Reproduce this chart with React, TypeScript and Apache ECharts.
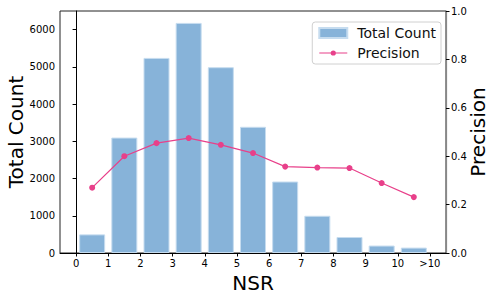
import React, { useEffect, useRef } from "react";
import * as echarts from "echarts";

const binCenters = [0.5, 1.5, 2.5, 3.5, 4.5, 5.5, 6.5, 7.5, 8.5, 9.5, 10.5];
const totalCounts = [500, 3100, 5240, 6180, 4990, 3390, 1920, 1000, 430, 200, 145];
const precision = [0.27, 0.40, 0.454, 0.475, 0.447, 0.413, 0.357, 0.353, 0.351, 0.289, 0.231];
const xTickValues = [0, 1, 2, 3, 4, 5, 6, 7, 8, 9, 10, 11];
const xTickLabels = ["0", "1", "2", "3", "4", "5", "6", "7", "8", "9", "10", ">10"];

const FONT = "DejaVu Sans";
const LINE_ICON = "path://M0 4.4H28V5.6H0Z M16.6 5A2.6 2.6 0 1 1 11.4 5A2.6 2.6 0 1 1 16.6 5Z";

export default function App() {
  const ref = useRef<HTMLDivElement>(null);
  useEffect(() => {
    if (!ref.current) return;
    const chart = echarts.init(ref.current, undefined, { renderer: "svg" });
    chart.setOption({
      animation: false,
      textStyle: { fontFamily: FONT },
      grid: {
        left: 60,
        top: 11,
        right: 52,
        bottom: 46,
        show: true,
        borderColor: "#222",
        borderWidth: 1,
        containLabel: false,
        outerBoundsMode: "none",
      },
      legend: {
        orient: "vertical",
        right: 57,
        top: 22,
        padding: [4, 5, 4, 6],
        itemGap: 6,
        itemWidth: 28,
        itemHeight: 10,
        borderColor: "#d0d0d0",
        borderWidth: 1,
        borderRadius: 3,
        backgroundColor: "#fff",
        textStyle: { fontFamily: FONT, fontSize: 14, color: "#111", padding: [0, 0, 0, 5] },
        data: [
          { name: "Total Count", icon: "rect" },
          { name: "Precision", icon: LINE_ICON },
        ],
      },
      xAxis: {
        type: "value",
        min: -0.5,
        max: 11.5,
        name: "NSR",
        nameLocation: "middle",
        nameGap: 18,
        nameTextStyle: { fontFamily: FONT, fontSize: 20, color: "#000" },
        axisLine: { show: true, lineStyle: { color: "#000", width: 1 } },
        axisTick: { show: true, length: 3.5, customValues: xTickValues, lineStyle: { color: "#000" } },
        axisLabel: {
          customValues: xTickValues,
          formatter: (v: number) => xTickLabels[xTickValues.indexOf(Math.round(v))] ?? "",
          fontFamily: FONT,
          fontSize: 10,
          color: "#000",
          margin: 5,
        },
        splitLine: { show: false },
      },
      yAxis: [
        {
          type: "value",
          min: 0,
          max: 6500,
          interval: 1000,
          name: "Total Count",
          nameLocation: "middle",
          nameMoveOverlap: false,
          nameGap: 34,
          nameTextStyle: { fontFamily: FONT, fontSize: 20, color: "#000" },
          axisLine: { show: true, lineStyle: { color: "#000", width: 1 } },
          axisTick: { show: true, length: 3.5, lineStyle: { color: "#000" } },
          axisLabel: {
            fontFamily: FONT,
            fontSize: 10,
            color: "#000",
            margin: 5,
            showMaxLabel: false,
            formatter: (v: number) => (v % 1000 === 0 ? String(v) : ""),
          },
          splitLine: { show: false },
        },
        {
          type: "value",
          min: 0,
          max: 1,
          interval: 0.2,
          position: "right",
          name: "Precision",
          nameLocation: "middle",
          nameMoveOverlap: false,
          nameRotate: 90,
          nameGap: 22,
          nameTextStyle: { fontFamily: FONT, fontSize: 20, color: "#000" },
          axisLine: { show: true, lineStyle: { color: "#888", width: 1.2 } },
          axisTick: { show: true, length: 3.5, lineStyle: { color: "#000" } },
          axisLabel: {
            fontFamily: FONT,
            fontSize: 10,
            color: "#000",
            margin: 5,
            formatter: (v: number) => v.toFixed(1),
          },
          splitLine: { show: false },
        },
      ],
      series: [
        {
          name: "Total Count",
          type: "bar",
          yAxisIndex: 0,
          barWidth: 26,
          data: binCenters.map((x, i) => [x, totalCounts[i]]),
          itemStyle: { color: "#87b3d9", borderColor: "#c6dcef", borderWidth: 1 },
        },
        {
          name: "Precision",
          type: "line",
          yAxisIndex: 1,
          data: binCenters.map((x, i) => [x, precision[i]]),
          symbol: "circle",
          symbolSize: 6,
          lineStyle: { color: "#e8408a", width: 1.2 },
          itemStyle: { color: "#e8408a" },
          z: 5,
        },
      ],
    });
    return () => chart.dispose();
  }, []);
  return <div ref={ref} style={{ width: 498, height: 299, position: "absolute", left: 0, top: 0 }} />;
}
